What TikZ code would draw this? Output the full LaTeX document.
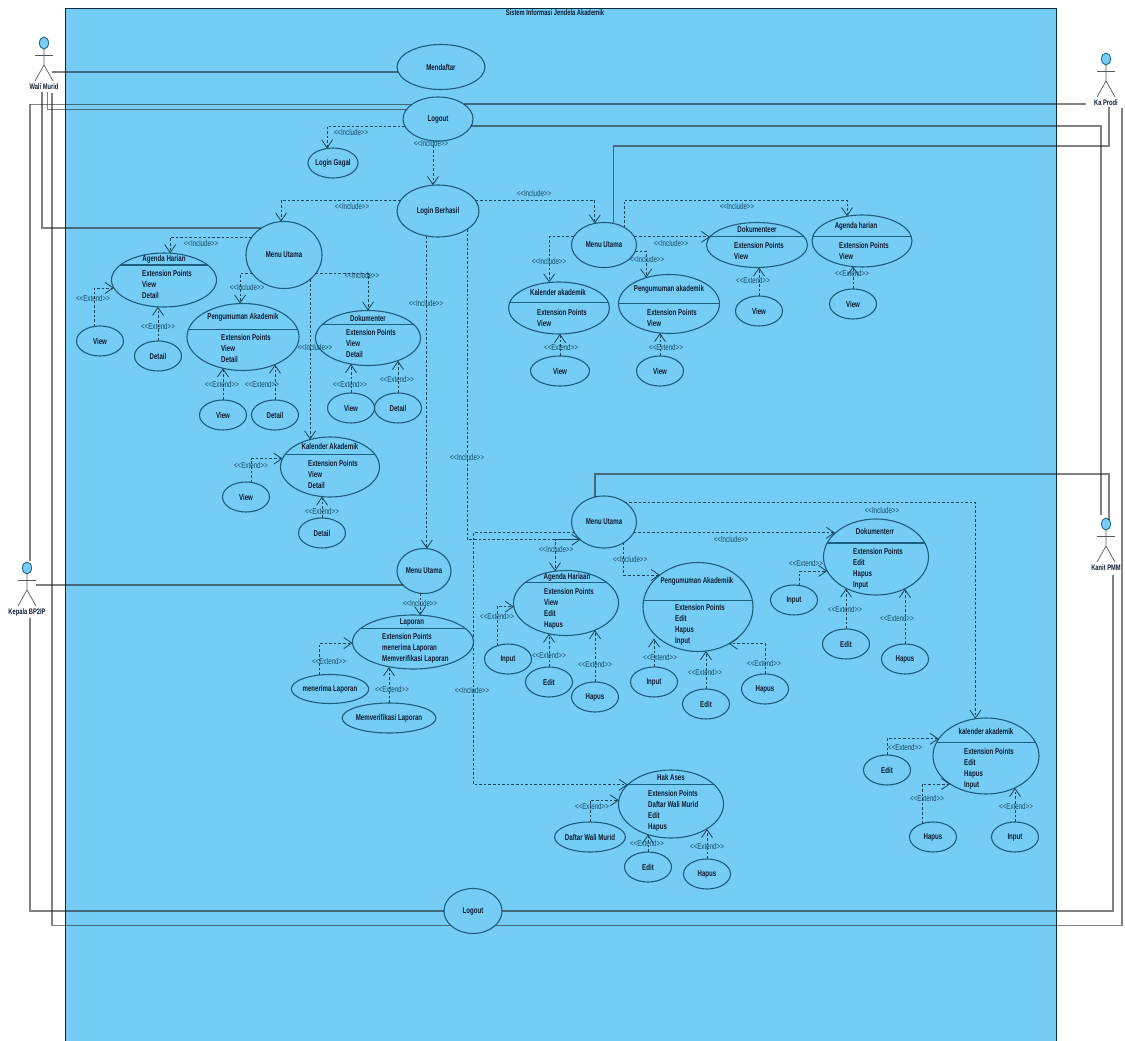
\documentclass[tikz,border=0pt]{standalone}
\usepackage{fontspec}
\setmainfont{Liberation Sans}[FakeStretch=0.72]
\usetikzlibrary{shapes.geometric,arrows.meta}
\definecolor{sysblue}{HTML}{75CCF5}
\definecolor{ucline}{HTML}{1B5E80}
\definecolor{ink}{HTML}{0D1C33}
\newcommand{\incl}{<{}<Include>{}>}
\newcommand{\extd}{<{}<Extend>{}>}
\newcommand{\actor}[4]{%
  \node[head] (#1) at (#2,#3) {};
  \draw[stick] (#1.south) -- ++(0,16) -- ++(-9,16) ++(9,-16) -- ++(9,16);
  \draw[stick] (#1.south) ++(-9,6) -- ++(18,0);
  \node[actorlabel] (#1L) at (#2,#3+44) {#4};}
\begin{document}
\begin{tikzpicture}
[x=1pt,y=-1pt,
 uc/.style 2 args={ellipse,draw=ucline,line width=1.1pt,inner sep=0,outer sep=0,
   minimum width=#1,minimum height=#2,text=ink,font=\fontsize{8.5}{9}\selectfont\bfseries},
 sm/.style={uc={47}{30}},
 title/.style={inner sep=0,text=ink,font=\fontsize{8.5}{9}\selectfont\bfseries},
 points/.style={anchor=north west,align=left,inner sep=0,text=ink,yshift=.6pt,
   font=\fontsize{8.5}{11.2}\selectfont\bfseries},
 depname/.style={inner sep=0,text=ucline!80!black,font=\fontsize{8.6}{9}\selectfont},
 actorlabel/.style={inner sep=0,text=ink,font=\fontsize{8}{9}\selectfont\bfseries},
 head/.style={ellipse,draw=ucline,fill=sysblue,line width=.8pt,inner sep=0,outer sep=0,
   minimum width=9,minimum height=12},
 stick/.style={draw=black!65,line width=.7pt},
 divider/.style={draw=ucline,line width=1.1pt},
 assoc/.style={draw=black!90,opacity=.55,line width=1.2pt},
 dep/.style={draw=ucline!75!black,line width=.8pt,dash pattern=on 2.6pt off 2pt,
   -{Straight Barb[length=8pt,width=11pt,line width=.8pt]}}]
\useasboundingbox (0,0) rectangle (1125,1041);
\fill[sysblue,draw=black!55!ucline,line width=.8pt] (65,8) rectangle (1056,1050);
\node[title,font=\fontsize{8}{9}\selectfont\bfseries] (sistem) at (555,13) {Sistem Informasi Jendela Akademik};

% actors
\actor{wali}{44}{43}{Wali Murid}
\actor{kepala}{27}{568}{Kepala BP2IP}
\actor{prodi}{1106}{59}{Ka Prodi}
\actor{kanit}{1106}{524}{Kanit PMM}
\coordinate (waliA) at (52,72);
\coordinate (waliB) at (47.5,92);
\coordinate (waliC) at (42,92);
\coordinate (waliD) at (52,93);
\coordinate (kepalaA) at (36,585);
\coordinate (kepalaB) at (30,561);
\coordinate (kepalaC) at (30,618);
\coordinate (prodiA) at (1086,104);
\coordinate (prodiB) at (1109,107);
\coordinate (prodiC) at (1122,108);
\coordinate (kanitA) at (1101,515);
\coordinate (kanitB) at (1109,520);
\coordinate (kanitC) at (1113,575);

% login
\node[uc={88}{45}] (mendaftar) at (441,67) {Mendaftar};
\node[uc={70}{44}] (logout) at (438,119) {Logout};
\node[uc={46}{30}] (gagal) at (333,163) {Login Gagal};
\node[uc={82}{52}] (berhasil) at (438,211) {Login Berhasil};
\node[uc={58}{45}] (logoutB) at (473,911) {Logout};

% wali murid
\node[uc={76}{67}] (menu) at (284,255) {Menu Utama};
\node[uc={105}{54}] (agenda) at (164,280) {};
\node[title] (agendaT) at (164,259) {Agenda Harian};
\node[points] (agendaP) at (142,270.5) {Extension Points\\View\\Detail};
\draw[divider] (agenda.19) -- (agenda.161);
\node[sm] (agendaV) at (100,341) {View};
\node[sm] (agendaD) at (158,356) {Detail};
\node[uc={112}{67}] (umum) at (243,337) {};
\node[title] (umumT) at (243,317) {Pengumuman Akademik};
\node[points] (umumP) at (221,334.5) {Extension Points\\View\\Detail};
\draw[divider] (umum.8) -- (umum.172);
\node[sm] (umumV) at (223,415) {View};
\node[sm] (umumD) at (275,415) {Detail};
\node[uc={105}{55}] (doku) at (368,338) {};
\node[title] (dokuT) at (368,318) {Dokumenter};
\node[points] (dokuP) at (346,329.5) {Extension Points\\View\\Detail};
\draw[divider] (doku.16) -- (doku.164);
\node[sm] (dokuV) at (351,408) {View};
\node[sm] (dokuD) at (398,408) {Detail};
\node[uc={99}{60}] (kal) at (330,467) {};
\node[title] (kalT) at (330,446) {Kalender Akademik};
\node[points] (kalP) at (308,460.5) {Extension Points\\View\\Detail};
\draw[divider] (kal.15) -- (kal.165);
\node[sm] (kalV) at (246,497) {View};
\node[sm] (kalD) at (322,533) {Detail};

% ka prodi
\node[uc={65}{45}] (menuS) at (604,245) {Menu Utama};
\node[uc={101}{52}] (kalS) at (559,308) {};
\node[title] (kalST) at (558,292) {Kalender akademik};
\node[points] (kalSP) at (537,309.5) {Extension Points\\View};
\draw[divider] (kalS.6) -- (kalS.174);
\node[uc={59}{30}] (kalSV) at (560,371) {View};
\node[uc={101}{59}] (umumS) at (669,304) {};
\node[title] (umumST) at (669,289) {Pengumuman akademik};
\node[points] (umumSP) at (647,309.5) {Extension Points\\View};
\draw[divider] (umumS.1) -- (umumS.179);
\node[sm] (umumSV) at (660,371) {View};
\node[uc={101}{45}] (dokuS) at (757,245) {};
\node[title] (dokuST) at (757,229) {Dokumenteer};
\node[points] (dokuSP) at (734,242.5) {Extension Points\\View};
\draw[divider] (dokuS.10) -- (dokuS.170);
\node[sm] (dokuSV) at (759,311) {View};
\node[uc={100}{52}] (agendaS) at (862,241) {};
\node[title] (agendaST) at (856,226) {Agenda harian};
\node[points] (agendaSP) at (839,242.5) {Extension Points\\View};
\draw[divider] (agendaS.5) -- (agendaS.175);
\node[sm] (agendaSV) at (853,304) {View};

% kepala
\node[uc={54}{45}] (menuB) at (424,571) {Menu Utama};
\node[uc={121}{54}] (lapor) at (413,642) {};
\node[title] (laporT) at (412,622) {Laporan};
\node[points] (laporP) at (382,633.5) {Extension Points\\menerima Laporan\\Memverifikasi Laporan};
\draw[divider] (lapor.15) -- (lapor.165);
\node[uc={64}{29}] (terima) at (330,689) {menerima Laporan};
\node[uc={76}{30}] (verif) at (389,718) {Memverifikasi Laporan};

% kanit
\node[uc={65}{52}] (menuK) at (604,522) {Menu Utama};
\node[uc={105}{65}] (agendaK) at (566,603) {};
\node[title] (agendaKT) at (567,577) {Agenda Hariaan};
\node[points] (agendaKP) at (544,588.5) {Extension Points\\View\\Edit\\Hapus};
\draw[divider] (agendaK.26) -- (agendaK.154);
\node[sm] (agendaKI) at (508,659) {Input};
\node[sm] (agendaKE) at (549,682) {Edit};
\node[sm] (agendaKH) at (595,697) {Hapus};
\node[uc={110}{89}] (umumK) at (698,607) {};
\node[title] (umumKT) at (697,581) {Pengumuman Akademiik};
\node[points] (umumKP) at (675,604.5) {Extension Points\\Edit\\Hapus\\Input};
\draw[divider] (umumK.7) -- (umumK.173);
\node[sm] (umumKI) at (654,682) {Input};
\node[sm] (umumKE) at (706,704) {Edit};
\node[sm] (umumKH) at (765,689) {Hapus};
\node[uc={105}{76}] (dokuK) at (876,557) {};
\node[title] (dokuKT) at (875,531) {Dokumenterr};
\node[points] (dokuKP) at (853,548.5) {Extension Points\\Edit\\Hapus\\Input};
\draw[divider] (dokuK.16) -- (dokuK.164);
\node[sm] (dokuKI) at (794,600) {Input};
\node[sm] (dokuKE) at (846,644) {Edit};
\node[sm] (dokuKH) at (905,659) {Hapus};
\node[uc={106}{76}] (kalK) at (986,756) {};
\node[title] (kalKT) at (986,731) {kalender akademik};
\node[points] (kalKP) at (964,748.5) {Extension Points\\Edit\\Hapus\\Input};
\draw[divider] (kalK.15) -- (kalK.165);
\node[sm] (kalKE) at (887,770) {Edit};
\node[sm] (kalKH) at (933,837) {Hapus};
\node[sm] (kalKI) at (1015,837) {Input};
\node[uc={105}{68}] (hak) at (671,804) {};
\node[title] (hakT) at (671,777) {Hak Ases};
\node[points] (hakP) at (648,790.5) {Extension Points\\Daftar Wali Murid\\Edit\\Hapus};
\draw[divider] (hak.24) -- (hak.156);
\node[uc={59}{30}] (hakD) at (590,837) {Daftar Wali Murid};
\node[sm] (hakE) at (648,867) {Edit};
\node[sm] (hakH) at (707,874) {Hapus};

% actor lines
\draw[assoc] (waliA) -- (waliA -| mendaftar.187);
\draw[assoc] (waliB) |- (logout.164);
\draw[assoc] (waliC) |- (menu.130);
\draw[assoc] (waliD) |- (logoutB.212);
\draw[assoc] (kepalaB) |- (logout.150);
\draw[assoc] (kepalaA) -- (kepalaA -| menuB.214);
\draw[assoc] (kepalaC) |- (logoutB.west);
\draw[assoc] (prodiA) -- (prodiA -| logout.30);
\draw[assoc] (prodiB) -- ++(0,39) -| (menuS.67);
\draw[assoc] (prodiC) |- (logoutB.328);
\draw[assoc] (kanitA) |- (logout.348);
\draw[assoc] (kanitB) -- ++(0,-46) -| (menuK.110);
\draw[assoc] (kanitC) |- (logoutB.east);

% include
\draw[dep] (logout.192) -| (gagal.112);
\draw[dep] (logout.257) -- (logout.257 |- berhasil.101);
\draw[dep] (berhasil.164) -| (menu.95);
\draw[dep] (berhasil.16) -| (menuS.113);
\draw[dep] (berhasil.246) -- (berhasil.246 |- menuB.82);
\draw[dep] (berhasil.328) |- (menuK.217);
\draw[dep] (menu.151) -| (agenda.77);
\draw[dep] (menu.211) -| (umum.95);
\draw[dep] (menu.329) -| (doku.north);
\draw[dep] (menu.317) -- (menu.317 |- kal.126);
\draw[dep] (menuS.165) -| (kalS.111);
\draw[dep] (menuS.349) -| (umumS.131);
\draw[dep] (menuS.15) -- (menuS.15 -| dokuS.170);
\draw[dep] (menuS.41) -- ++(0,-27) -| (agendaS.121);
\draw[dep] (menuB.260) -- (menuB.260 |- lapor.75);
\draw[dep] (menuK.217) -| (agendaK.109);
\draw[dep] (menuK.314) |- (umumK.140);
\draw[dep] (menuK.340) -- (menuK.340 -| dokuK.150);
\draw[dep] (menuK.44) -| (kalK.106);
\draw[dep] (menuK.200) -- ++(-101,0) |- (hak.156);

% extend
\draw[dep] (agendaV.112) |- (agenda.189);
\draw[dep] (agendaD.north) -- (agendaD.north |- agenda.257);
\draw[dep] (umumV.north) -- (umumV.north |- umum.237);
\draw[dep] (umumD.north) -- (umumD.north |- umum.319);
\draw[dep] (dokuV.north) -- (dokuV.north |- doku.237);
\draw[dep] (dokuD.north) -- (dokuD.north |- doku.322);
\draw[dep] (kalV.68) |- (kal.170);
\draw[dep] (kalD.north) -- (kalD.north |- kal.255);
\draw[dep] (kalSV.north) -- (kalSV.north |- kalS.274);
\draw[dep] (umumSV.north) -- (umumSV.north |- umumS.253);
\draw[dep] (dokuSV.north) -- (dokuSV.north |- dokuS.260);
\draw[dep] (agendaSV.north) -- (agendaSV.north |- agendaS.249);
\draw[dep] (terima.126) |- (lapor.181);
\draw[dep] (verif.north) -- (verif.north |- lapor.229);
\draw[dep] (agendaKI.130) |- (agendaK.184);
\draw[dep] (agendaKE.north) -- (agendaKE.north |- agendaK.241);
\draw[dep] (agendaKH.north) -- (agendaKH.north |- agendaK.317);
\draw[dep] (umumKI.north) -- (umumKI.north |- umumK.219);
\draw[dep] (umumKE.north) -- (umumKE.north |- umumK.280);
\draw[dep] (umumKH.north) |- (umumK.310);
\draw[dep] (dokuKI.68) |- (dokuK.196);
\draw[dep] (dokuKE.north) -- (dokuKE.north |- dokuK.227);
\draw[dep] (dokuKH.north) -- (dokuKH.north |- dokuK.312);
\draw[dep] (kalKE.north) |- (kalK.160);
\draw[dep] (kalKH.130) |- (kalK.218);
\draw[dep] (kalKI.north) -- (kalKI.north |- kalK.312);
\draw[dep] (hakD.north) |- (hak.176);
\draw[dep] (hakE.north) -- (hakE.north |- hak.233);
\draw[dep] (hakH.north) -- (hakH.north |- hak.325);

% stereotypes
\foreach \n/\x/\y in {1/351/132,2/431/143,3/352/206,4/534/193,5/426/303,6/467/457,7/201/243,
  8/247/287,9/362/275,10/315/347,11/549/261,12/647/259,13/671/243,14/737/206,15/420/603,
  16/556/549,17/630/559,18/731/539,19/882/510,20/472/690}
  \node[depname] (inc\n) at (\x,\y) {\incl};
\foreach \n/\x/\y in {1/93/298,2/158/326,3/222/384,4/262/384,5/350/384,6/397/379,7/251/465,
  8/322/511,9/561/347,10/666/347,11/753/280,12/852/273,13/329/661,14/392/689,15/497/616,
  16/549/655,17/595/664,18/660/657,19/705/672,20/764/663,21/806/563,22/845/609,23/897/618,
  24/905/747,25/927/798,26/1016/806,27/592/806,28/647/843,29/707/846}
  \node[depname] (ext\n) at (\x,\y) {\extd};
\end{tikzpicture}
\end{document}
